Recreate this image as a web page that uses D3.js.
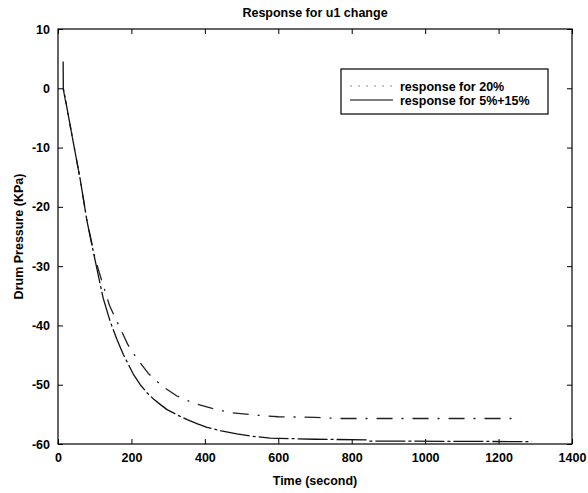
<!DOCTYPE html>
<html>
<head>
<meta charset="utf-8">
<script src="https://cdn.jsdelivr.net/npm/d3@7"></script>
<style>
  html, body { margin: 0; padding: 0; background: #fff; }
  svg text { font-family: "Liberation Sans", Arial, sans-serif; fill: #000; }
</style>
</head>
<body>
<div id="chart"></div>
<script>
// --- data ------------------------------------------------------
const xTicks = [0, 200, 400, 600, 800, 1000, 1200, 1400];
const yTicks = [10, 0, -10, -20, -30, -40, -50, -60];

// response for 20% (upper settling curve)
const resp20 = [
  [14, 0], [41, -8.9], [60, -15.2], [79, -22.4], [101, -28.7], [115, -31.6],
  [140, -36.6], [164, -39.8], [190, -43.2], [215, -45.6], [246, -48.1],
  [285, -50.3], [324, -51.9], [369, -53.1], [420, -54.0], [470, -54.7],
  [533, -55.1], [600, -55.4], [700, -55.5], [760, -55.7], [1260, -55.7]
];

// response for 5%+15% (lower settling curve, with the initial spike)
const resp515 = [
  [14, 4.5], [14.5, 0], [41, -8.9], [60, -15.2], [79, -22.4], [101, -29.0],
  [123, -35.4], [142, -39.3], [160, -42.3], [178, -44.9], [205, -48.2],
  [224, -50.0], [243, -51.4], [260, -52.4], [280, -53.4], [297, -54.2],
  [325, -55.1], [352, -55.9], [380, -56.6], [406, -57.2], [445, -57.8],
  [487, -58.3], [530, -58.7], [578, -59.0], [700, -59.2], [840, -59.3],
  [850, -59.5], [1290, -59.6]
];

const seriesNames = ["response for 20%", "response for 5%+15%"];

// --- layout ----------------------------------------------------
const W = 588, H = 493;
const m = { left: 58, right: 16, top: 29, bottom: 49 };

const svg = d3.select("#chart").append("svg")
  .attr("width", W).attr("height", H);

const x = d3.scaleLinear().domain([0, 1400]).range([m.left, W - m.right]);
const y = d3.scaleLinear().domain([-60, 10]).range([H - m.bottom, m.top]);

// frame
svg.append("rect")
  .attr("x", x(0)).attr("y", y(10))
  .attr("width", x(1400) - x(0)).attr("height", y(-60) - y(10))
  .attr("fill", "none").attr("stroke", "#000").attr("stroke-width", 1.2);

// axes (matlab style: ticks inward, mirrored)
const tk = 5;
const fmt = d => String(d);  // plain hyphen, like the original
svg.append("g").attr("transform", `translate(0,${y(-60)})`)
  .call(d3.axisBottom(x).tickValues(xTicks).tickSize(-tk).tickPadding(9).tickFormat(fmt))
  .call(g => g.select(".domain").remove());
svg.append("g").attr("transform", `translate(0,${y(10)})`)
  .call(d3.axisTop(x).tickValues(xTicks).tickSize(-tk).tickFormat(""))
  .call(g => g.select(".domain").remove());
svg.append("g").attr("transform", `translate(${x(0)},0)`)
  .call(d3.axisLeft(y).tickValues(yTicks).tickSize(-tk).tickPadding(8).tickFormat(fmt))
  .call(g => g.select(".domain").remove());
svg.append("g").attr("transform", `translate(${x(1400)},0)`)
  .call(d3.axisRight(y).tickValues(yTicks).tickSize(-tk).tickFormat(""))
  .call(g => g.select(".domain").remove());

svg.selectAll(".tick line").attr("stroke", "#000").attr("stroke-width", 1);
svg.selectAll(".tick text").attr("font-size", 12.5).attr("font-weight", "bold").attr("fill", "#000");

// curves
const line = d3.line().x(d => x(d[0])).y(d => y(d[1]));
const styles = [
  { dash: "16,9,2,9", w: 1.3, color: "#222" },
  { dash: "30,3,3,3", w: 1.3, color: "#111" }
];

[resp20, resp515].forEach((data, i) => {
  svg.append("path").datum(data)
    .attr("d", line).attr("fill", "none")
    .attr("stroke", styles[i].color).attr("stroke-width", styles[i].w)
    .attr("stroke-dasharray", styles[i].dash)
    .attr("stroke-linejoin", "round");
});

// legend
const lg = svg.append("g");
lg.append("rect")
  .attr("x", 341).attr("y", 69).attr("width", 207).attr("height", 45)
  .attr("fill", "#fff").attr("stroke", "#000").attr("stroke-width", 1.2);
const legendDash = ["2,6", null];
seriesNames.forEach((name, i) => {
  const yy = 86 + i * 14;
  lg.append("line")
    .attr("x1", 350).attr("x2", 393).attr("y1", yy).attr("y2", yy)
    .attr("stroke", i === 0 ? "#888" : "#000").attr("stroke-width", 1.2)
    .attr("stroke-dasharray", legendDash[i]);
  lg.append("text")
    .attr("x", 400).attr("y", yy + 4.5)
    .attr("font-size", 12.5).attr("font-weight", "bold")
    .text(name);
});

// titles
svg.append("text")
  .attr("x", 315).attr("y", 17).attr("text-anchor", "middle")
  .attr("font-size", 12.5).attr("font-weight", "bold")
  .text("Response for u1 change");
svg.append("text")
  .attr("x", 315).attr("y", 485).attr("text-anchor", "middle")
  .attr("font-size", 12.5).attr("font-weight", "bold")
  .text("Time (second)");
svg.append("text")
  .attr("transform", `translate(23,${(y(10) + y(-60)) / 2}) rotate(-90)`)
  .attr("text-anchor", "middle")
  .attr("font-size", 12.5).attr("font-weight", "bold")
  .text("Drum Pressure (KPa)");
</script>
</body>
</html>
